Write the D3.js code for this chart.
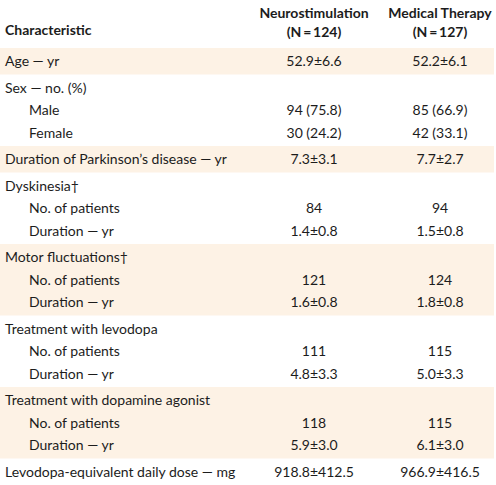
<!DOCTYPE html>
<html>
<head>
<meta charset="utf-8">
<script src="https://cdn.jsdelivr.net/npm/d3@7"></script>
<style>
  html, body { margin: 0; padding: 0; background: #ffffff; }
  svg { display: block; }
  text { font-family: "Lato", "Open Sans", sans-serif; fill: #1c1c1c; }
</style>
</head>
<body>
<svg id="chart" width="496" height="485"></svg>
<script>
// ---- Data ----
const columnHeaders = ["Characteristic", "Neurostimulation", "Medical Therapy"];
const columnSubHeaders = ["", "(N\u2009=\u2009124)", "(N\u2009=\u2009127)"];

const labels = [
  "Age \u2014 yr",
  "Sex \u2014 no. (%)", "Male", "Female",
  "Duration of Parkinson\u2019s disease \u2014 yr",
  "Dyskinesia\u2020", "No. of patients", "Duration \u2014 yr",
  "Motor fluctuations\u2020", "No. of patients", "Duration \u2014 yr",
  "Treatment with levodopa", "No. of patients", "Duration \u2014 yr",
  "Treatment with dopamine agonist", "No. of patients", "Duration \u2014 yr",
  "Levodopa-equivalent daily dose \u2014 mg"
];
const indentLevel = [0, 0, 1, 1, 0, 0, 1, 1, 0, 1, 1, 0, 1, 1, 0, 1, 1, 0];
const groupOf =     [0, 1, 1, 1, 2, 3, 3, 3, 4, 4, 4, 5, 5, 5, 6, 6, 6, 7];
const neuroValues = [
  "52.9\u00b16.6",
  "", "94 (75.8)", "30 (24.2)",
  "7.3\u00b13.1",
  "", "84", "1.4\u00b10.8",
  "", "121", "1.6\u00b10.8",
  "", "111", "4.8\u00b13.3",
  "", "118", "5.9\u00b13.0",
  "918.8\u00b1412.5"
];
const medicalValues = [
  "52.2\u00b16.1",
  "", "85 (66.9)", "42 (33.1)",
  "7.7\u00b12.7",
  "", "94", "1.5\u00b10.8",
  "", "124", "1.8\u00b10.8",
  "", "115", "5.0\u00b13.3",
  "", "115", "6.1\u00b13.0",
  "966.9\u00b1416.5"
];

// ---- Layout ----
const W = 496, H = 485;
const tableTop = 48;
const lineH = 22.5, groupPad = 4, baseOffset = 18;
const shade = "#fdf2e5";
const fontSize = 14;

const svg = d3.select("#chart");

const nGroups = d3.max(groupOf) + 1;
const groupLines = d3.range(nGroups).map(g => groupOf.filter(x => x === g).length);
const groupTop = [];
let acc = tableTop;
groupLines.forEach((n, i) => { groupTop[i] = acc; acc += n * lineH + groupPad; });

const firstIndex = {};
groupOf.forEach((g, i) => { if (firstIndex[g] === undefined) firstIndex[g] = i; });
const baseline = i => groupTop[groupOf[i]] + baseOffset + (i - firstIndex[groupOf[i]]) * lineH;

const xCol = d3.scaleOrdinal().domain([1, 2]).range([314, 440]);
const xIndent = d3.scaleOrdinal().domain([0, 1]).range([5, 29]);

svg.append("g").selectAll("rect")
  .data(d3.range(nGroups).filter(g => g % 2 === 0))
  .join("rect")
  .attr("x", 0)
  .attr("y", g => groupTop[g])
  .attr("width", 494)
  .attr("height", g => groupLines[g] * lineH + groupPad)
  .attr("fill", shade);

const hdr = svg.append("g").attr("font-weight", "bold").attr("font-size", 14);
hdr.append("text").attr("x", 5).attr("y", 35).text(columnHeaders[0]);
[1, 2].forEach(c => {
  hdr.append("text").attr("x", xCol(c)).attr("y", 18).attr("text-anchor", "middle").text(columnHeaders[c]);
  hdr.append("text").attr("x", xCol(c)).attr("y", 37).attr("text-anchor", "middle").text(columnSubHeaders[c]);
});

const body = svg.append("g").attr("font-size", fontSize);
const rows = labels.map((l, i) => ({ l, i, n: neuroValues[i], m: medicalValues[i], ind: indentLevel[i] }));
body.selectAll("text.lab").data(rows).join("text").attr("class", "lab")
  .attr("x", d => xIndent(d.ind)).attr("y", d => baseline(d.i)).text(d => d.l);
body.selectAll("text.neu").data(rows.filter(d => d.n)).join("text").attr("class", "neu")
  .attr("x", xCol(1)).attr("y", d => baseline(d.i)).attr("text-anchor", "middle").text(d => d.n);
body.selectAll("text.med").data(rows.filter(d => d.m)).join("text").attr("class", "med")
  .attr("x", xCol(2)).attr("y", d => baseline(d.i)).attr("text-anchor", "middle").text(d => d.m);
</script>
</body>
</html>
